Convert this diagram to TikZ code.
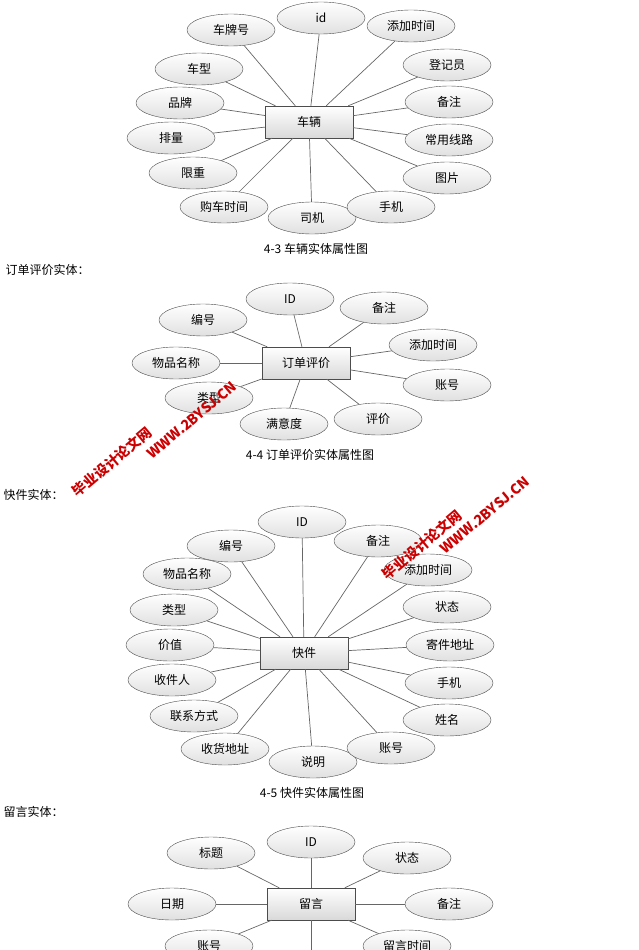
\documentclass[tikz,border=0pt]{standalone}
\usepackage{fontspec}
\setmainfont{Noto Sans CJK SC}
\usetikzlibrary{shapes.geometric}
\begin{document}
\begin{tikzpicture}[x=1pt,y=-1pt,
  attr/.style={ellipse,draw=black!70,top color=white,bottom color=black!12,minimum width=88pt,minimum height=32pt,inner sep=0pt,font=\fontsize{12}{14}\selectfont},
  ent/.style={rectangle,draw=black!70,top color=white,bottom color=black!15,minimum width=88pt,minimum height=32pt,inner sep=0pt,font=\fontsize{12}{14}\selectfont},
  lnk/.style={draw=black!60,line width=0.7pt},
  captxt/.style={font=\fontsize{12}{14}\selectfont},
  lbl/.style={anchor=west,font=\fontsize{12}{14}\selectfont},
  wm/.style={text=red!80!black,font=\bfseries\fontsize{14}{16}\selectfont,rotate=40}]
\useasboundingbox (0,0) rectangle (639,950);
\begin{scope}
\clip (0,0) rectangle (639,950);
% diagram 1
\node[ent] (c1) at (309,122) {车辆};
\foreach \n/\x/\y/\t in {a/321/18/id,b/231/30/车牌号,c/411/26/添加时间,d/199/69/车型,e/447/65/登记员,f/180/103/品牌,g/449/102/备注,h/171/138/排量,i/449/140/常用线路,j/193/173/限重,k/447/178/图片,l/224/207/购车时间,m/312/218/司机,n/391/207/手机}{
  \node[attr] (c1\n) at (\x,\y) {\t};
  \draw[lnk] (c1\n) -- (c1);
}
\node[captxt] (t1) at (316,249) {4-3 车辆实体属性图};
\node[lbl] (s2) at (2,270) {订单评价实体：};
% diagram 2
\node[ent] (c2) at (306,363) {订单评价};
\foreach \n/\x/\y/\t in {a/290/299/ID,b/384/308/备注,c/203/320/编号,d/433/345/添加时间,e/176/363/物品名称,f/447/385/账号,g/209/398/类型,h/284/424/满意度,i/378/419/评价}{
  \node[attr] (c2\n) at (\x,\y) {\t};
  \draw[lnk] (c2\n) -- (c2);
}
\node[captxt] (t2) at (310,455) {4-4 订单评价实体属性图};
\node[lbl] (s3) at (0,495) {快件实体：};
% diagram 3
\node[ent] (c3) at (304,653) {快件};
\foreach \n/\x/\y/\t in {a/302/522/ID,b/231/546/编号,c/378/541/备注,d/187/574/物品名称,e/428/570/添加时间,f/174/610/类型,g/447/607/状态,h/170/645/价值,i/450/645/寄件地址,j/172/680/收件人,k/449/683/手机,l/194/716/联系方式,m/447/720/姓名,n/225/749/收货地址,o/313/762/说明,p/391/748/账号}{
  \node[attr] (c3\n) at (\x,\y) {\t};
  \draw[lnk] (c3\n) -- (c3);
}
\node[captxt] (t3) at (312,793) {4-5 快件实体属性图};
\node[lbl] (s4) at (0,812) {留言实体：};
% diagram 4
\node[ent] (c4) at (311,904) {留言};
\foreach \n/\x/\y/\t in {a/311/842/ID,b/211/853/标题,c/407/858/状态,d/172/904/日期,e/449/904/备注,f/209/946/账号,g/407/946/留言时间}{
  \node[attr] (c4\n) at (\x,\y) {\t};
  \draw[lnk] (c4\n) -- (c4);
}
\coordinate (c4x) at (311,952);
\draw[lnk] (c4) -- (c4x);
% watermarks
\node[wm] (w1) at (112,462) {毕业设计论文网};
\node[wm] (w2) at (192,420) {WWW.2BYSJ.CN};
\node[wm] (w3) at (422,545) {毕业设计论文网};
\node[wm] (w4) at (485,515) {WWW.2BYSJ.CN};
\end{scope}
\end{tikzpicture}
\end{document}
